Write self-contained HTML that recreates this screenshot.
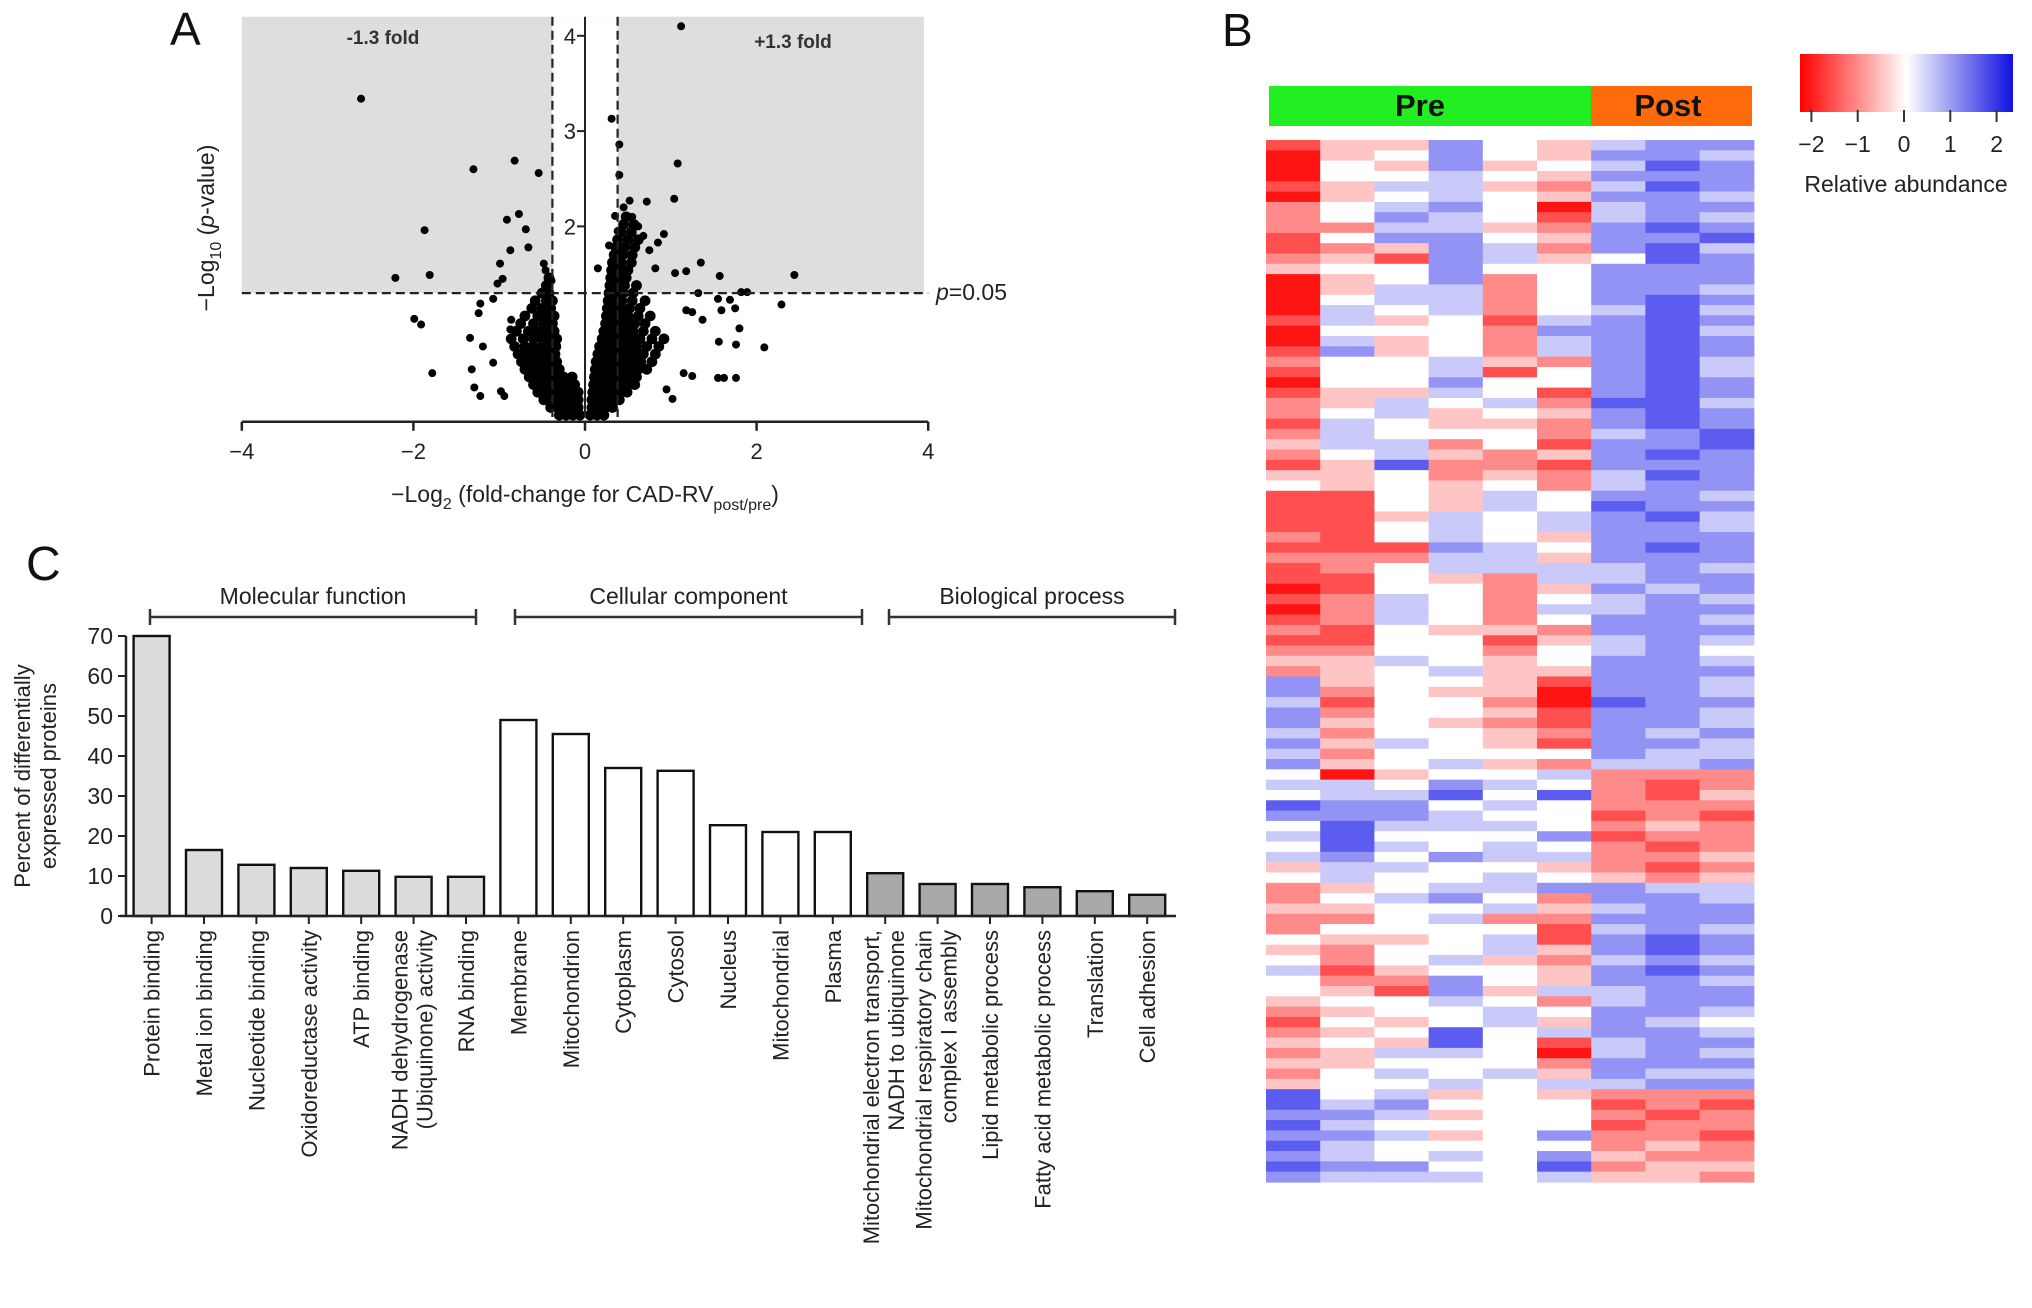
<!DOCTYPE html>
<html><head><meta charset="utf-8"><style>
html,body{margin:0;padding:0;background:#fff}
svg{display:block;font-family:"Liberation Sans",Arial,sans-serif}
</style></head><body>
<svg id="fig" width="2032" height="1308" viewBox="0 0 2032 1308" xmlns="http://www.w3.org/2000/svg">
<g id="pa"></g>
<g id="pb"></g>
<g id="pc"></g>
</svg>
<script>
const NS="http://www.w3.org/2000/svg";
function mk(parent,tag,attrs,text){const e=document.createElementNS(NS,tag);for(const k in attrs)e.setAttribute(k,attrs[k]);if(text!==undefined)e.textContent=text;parent.appendChild(e);return e;}

/* ---------- Panel A data ---------- */
const volXTicks=[-4,-2,0,2,4];
const volYTicks=[2,3,4];
const outlierX=[1.12,-2.61,0.31,0.40,0.40,-0.82,-1.30,-0.54,1.08,1.04,0.72,-1.87,-0.91,-0.77,-0.69,-0.87,-0.66,-0.99,-0.48,-2.21,-1.81,1.35,1.18,1.05,1.57,2.44,0.92,0.85,0.82,1.82,1.89,1.32,2.29,1.55,1.69,1.75,1.59,1.18,1.25,1.37,1.80,1.56,1.76,2.09,1.55,1.62,1.76,1.25,1.15,-1.99,-1.91,-1.78,-1.34,-1.19,-1.24,-1.22,-1.07,-1.02,-0.96,-1.32,-1.29,-1.22,-1.07,-0.98,-0.94,-0.86,-0.87,-0.39,-0.46,0.15,0.28,0.38,0.35,0.52,0.45,0.55,0.62,0.68,0.75,1.02,0.95];
const outlierY=[4.1,3.34,3.13,2.86,2.54,2.69,2.6,2.56,2.66,2.29,2.26,1.96,2.07,2.13,1.97,1.75,1.78,1.61,1.61,1.46,1.49,1.62,1.53,1.51,1.48,1.49,1.92,1.83,1.56,1.31,1.31,1.30,1.18,1.24,1.23,1.14,1.12,1.12,1.10,1.02,0.93,0.79,0.76,0.73,0.41,0.41,0.41,0.43,0.46,1.03,0.97,0.46,0.83,0.74,1.09,1.19,1.24,1.40,1.45,0.50,0.31,0.22,0.57,0.27,0.22,1.02,0.92,1.43,1.54,1.56,1.80,1.95,2.11,2.27,2.2,2.1,2.0,1.9,1.75,0.19,0.29];
const coreRowsY=[0.02,0.1,0.18,0.26,0.34,0.42,0.5,0.58,0.66,0.74,0.82,0.9,0.98,1.06,1.14,1.22,1.3,1.38,1.46,1.54,1.62,1.7,1.78,1.86,1.94,2.02,2.1];
const coreRowsX=[
[-0.3,-0.22,-0.14,-0.06,0.06,0.14,0.22],
[-0.4,-0.32,-0.24,-0.16,-0.08,0.08,0.16,0.24,0.32],
[-0.48,-0.4,-0.32,-0.24,-0.16,-0.08,0.08,0.16,0.24,0.32,0.4],
[-0.55,-0.47,-0.39,-0.31,-0.23,-0.15,-0.08,0.09,0.17,0.25,0.33,0.41,0.49],
[-0.6,-0.52,-0.44,-0.36,-0.28,-0.2,-0.12,0.1,0.18,0.26,0.34,0.42,0.5,0.58],
[-0.65,-0.57,-0.49,-0.41,-0.33,-0.25,-0.15,0.11,0.19,0.27,0.35,0.43,0.51,0.6],
[-0.7,-0.62,-0.54,-0.46,-0.38,-0.3,0.12,0.2,0.28,0.36,0.44,0.52,0.62,0.72],
[-0.74,-0.66,-0.58,-0.5,-0.42,-0.33,0.13,0.21,0.29,0.37,0.45,0.55,0.65,0.78],
[-0.78,-0.68,-0.6,-0.52,-0.44,-0.35,0.15,0.23,0.31,0.39,0.47,0.57,0.68,0.82],
[-0.82,-0.7,-0.6,-0.5,-0.42,-0.34,0.17,0.25,0.33,0.41,0.5,0.6,0.72,0.86],
[-0.86,-0.72,-0.6,-0.5,-0.4,-0.33,0.2,0.28,0.36,0.44,0.53,0.64,0.78,0.92],
[-0.8,-0.66,-0.55,-0.45,-0.36,0.22,0.3,0.38,0.46,0.56,0.68,0.82],
[-0.75,-0.6,-0.48,-0.38,0.24,0.32,0.4,0.48,0.58,0.7],
[-0.7,-0.55,-0.44,-0.36,0.25,0.33,0.41,0.5,0.62,0.76],
[-0.62,-0.5,-0.4,0.26,0.34,0.42,0.52,0.64],
[-0.58,-0.45,-0.38,0.27,0.35,0.43,0.55,0.7],
[-0.5,-0.42,0.28,0.36,0.45,0.56],
[-0.45,0.29,0.37,0.46,0.6],
[-0.42,0.3,0.38,0.48],
[0.31,0.4,0.5],[0.32,0.42,0.54],[0.34,0.44,0.55],[0.36,0.46,0.58],[0.38,0.5,0.62],[0.42,0.54],[0.45,0.57],[0.48]];

/* ---------- Panel B data ---------- */
const heatGroups=["Pre","Post"];
const heatRows=[
"133643566","034643665","043634576","044543666","135532576","034543665","245640566","246541565","225532676","146643667","123652675","231653476","344644666",
"034624666","035524665","045524676","054524575","153415676","044426675","053425676","163425676","244532675","144514675","044644676","133541676","235452775","245343676","154332676","254442567","355241667","245323676",
"137221666","334232576","434342566","114354665","114354766","113545675","114545665","214543666","111654676","222553666","124555565","114325566","014423656","125424565","025425566","125424665","214332666","114413565","224424564","335434665","234533666",
"634431665","624330665","514420766","624431665","634321665","524432656","635431665","524444655","634532556",
"403445222","554654212","455747213","766454222","666544121","475554232","574446122","475454212","564655223","355443212","454454323",
"234556655","245642665","334453566","224522666","244441565","433451676","324453676","424532565","513443676","422643665","431635566","344542566","234454665","143453654","234745665","343741566","235540565","334442666","245453655","344545566",
"745343222","756444121","665344212","754444122","665346221","754444232","654546322","766447233","655545332"];

/* ---------- Panel C data ---------- */
const goCategories=["Protein binding","Metal ion binding","Nucleotide binding","Oxidoreductase activity","ATP binding","NADH dehydrogenase|(Ubiquinone) activity","RNA binding","Membrane","Mitochondrion","Cytoplasm","Cytosol","Nucleus","Mitochondrial","Plasma","Mitochondrial electron transport,|NADH to ubiquinone","Mitochondrial respiratory chain|complex I assembly","Lipid metabolic process","Fatty acid metabolic process","Translation","Cell adhesion"];
const goValues=[70,16.5,12.8,12,11.3,9.8,9.8,49,45.5,37,36.3,22.7,21,21,10.7,8,8,7.2,6.2,5.3];
const goGroupOf=[0,0,0,0,0,0,0,1,1,1,1,1,1,1,2,2,2,2,2,2];
const goGroupNames=["Molecular function","Cellular component","Biological process"];
const goYTicks=[0,10,20,30,40,50,60,70];

/* ===== Panel A drawing ===== */
const pa=document.getElementById('pa');
const ax=v=>585+v*85.8, ay=v=>417-v*95.3;
let e;
e=mk(pa,'rect',{x:ax(-4),y:ay(4.2),width:ax(3.95)-ax(-4),height:ay(1.3)-ay(4.2),fill:'#dedede'});

e=mk(pa,'rect',{x:ax(-0.38),y:ay(4.2),width:ax(0.38)-ax(-0.38),height:ay(1.3)-ay(4.2),fill:'#fff'});

const dots=mk(pa,'g',{fill:'#000'});

coreRowsY.forEach((y,i)=>coreRowsX[i].forEach(x=>{const c=mk(dots,'circle',{cx:ax(x),cy:ay(y),r:5.4});

}));
outlierX.forEach((x,i)=>{const c=mk(dots,'circle',{cx:ax(x),cy:ay(outlierY[i]),r:4});

});
e=mk(pa,'line',{x1:ax(-4),x2:ax(4),y1:ay(1.3),y2:ay(1.3),stroke:'#222','stroke-width':2.2,'stroke-dasharray':'9,5'});

[-0.38,0.38].forEach(v=>{const l=mk(pa,'line',{x1:ax(v),x2:ax(v),y1:ay(4.2),y2:ay(0),stroke:'#222','stroke-width':2.2,'stroke-dasharray':'9,5'});

});
e=mk(pa,'line',{x1:ax(0),x2:ax(0),y1:ay(4.2),y2:ay(0),stroke:'#222','stroke-width':2});

e=mk(pa,'line',{x1:ax(-4),x2:ax(4),y1:ay(-0.05),y2:ay(-0.05),stroke:'#222','stroke-width':2.5});

volXTicks.forEach(v=>{mk(pa,'line',{x1:ax(v),x2:ax(v),y1:ay(-0.05),y2:ay(-0.05)+9,stroke:'#222','stroke-width':2.5});
const t=mk(pa,'text',{x:ax(v),y:459,'font-size':22,'text-anchor':'middle',fill:'#222'},v<0?'\u2212'+(-v):String(v));
});
volYTicks.forEach(v=>{mk(pa,'line',{x1:ax(0)-8,x2:ax(0),y1:ay(v),y2:ay(v),stroke:'#222','stroke-width':2});
const t=mk(pa,'text',{x:ax(0)-9,y:ay(v)+8,'font-size':22,'text-anchor':'end',fill:'#222'},String(v));
});
e=mk(pa,'text',{x:170,y:45,'font-size':46,fill:'#111'},'A');
e=mk(pa,'text',{x:383,y:44,'font-size':19,'font-weight':'bold','text-anchor':'middle',fill:'#333'},'-1.3 fold');
e=mk(pa,'text',{x:793,y:48,'font-size':19,'font-weight':'bold','text-anchor':'middle',fill:'#333'},'+1.3 fold');
e=mk(pa,'text',{x:936,y:300,'font-size':23,fill:'#222'});e.innerHTML='<tspan font-style="italic">p</tspan>=0.05';
e=mk(pa,'text',{x:585,y:502,'font-size':23,'text-anchor':'middle',fill:'#222'});
e.innerHTML='\u2212Log<tspan font-size="16" dy="7">2</tspan><tspan dy="-7"> (fold-change for CAD-RV</tspan><tspan font-size="16" dy="8">post/pre</tspan><tspan dy="-8">)</tspan>';

e=mk(pa,'text',{transform:'translate(214,228) rotate(-90)','font-size':23,'text-anchor':'middle',fill:'#222'});
e.innerHTML='\u2212Log<tspan font-size="16" dy="7">10</tspan><tspan dy="-7"> (</tspan><tspan font-style="italic">p</tspan>-value)';


/* ===== Panel B drawing ===== */
const pb=document.getElementById('pb');
const hx0=1266,hcw=54.2,hy0=140,hy1=1182;
const rh=(hy1-hy0)/heatRows.length;
function col(v){const t=(v-4)/4;let r,g,b;
 if(t<0){const a=-t;r=255;g=Math.round(255*(1-a*0.92));b=Math.round(255*(1-a*0.92));}
 else{const a=t;r=Math.round(255*(1-a*0.85));g=Math.round(255*(1-a*0.85));b=255-Math.round(a*20);}
 return `rgb(${r},${g},${b})`;}
const hg=mk(pb,'g',{});
heatRows.forEach((row,i)=>{for(let j=0;j<9;j++){const c=mk(hg,'rect',{x:hx0+j*hcw,y:hy0+i*rh,width:hcw+0.6,height:rh+0.6,fill:col(+row[j])});

}});
e=mk(pb,'rect',{x:1269,y:86,width:322,height:40,fill:'#22ee22'});
e=mk(pb,'rect',{x:1591,y:86,width:161,height:40,fill:'#ff6a0a'});
e=mk(pb,'text',{x:1420,y:116,'font-size':31,'font-weight':'bold','text-anchor':'middle',fill:'#111'},heatGroups[0]);
e=mk(pb,'text',{x:1668,y:116,'font-size':31,'font-weight':'bold','text-anchor':'middle',fill:'#111'},heatGroups[1]);
const defs=mk(pb,'defs',{});const lg=mk(defs,'linearGradient',{id:'cb',x1:0,x2:1,y1:0,y2:0});
mk(lg,'stop',{offset:'0',  'stop-color':'#ff0000'});mk(lg,'stop',{offset:'0.5','stop-color':'#ffffff'});mk(lg,'stop',{offset:'1','stop-color':'#1010e0'});
e=mk(pb,'rect',{x:1800,y:54,width:213,height:58,fill:'url(#cb)'});
[-2,-1,0,1,2].forEach(v=>{const x=1904+v*46.3;mk(pb,'line',{x1:x,x2:x,y1:110,y2:122,stroke:'#333','stroke-width':2});
const t=mk(pb,'text',{x:x,y:152,'font-size':23,'text-anchor':'middle',fill:'#222'},v<0?'\u2212'+(-v):String(v));
});
e=mk(pb,'text',{x:1906,y:192,'font-size':23,'text-anchor':'middle',fill:'#222'},'Relative abundance');
e=mk(pb,'text',{x:1222,y:46,'font-size':46,fill:'#111'},'B');

/* ===== Panel C drawing ===== */
const pc=document.getElementById('pc');
const cy=v=>916-v*4.0, cx=i=>151.6+i*52.4;
const fills=['#dcdcdc','#ffffff','#a9a9a9'];
goValues.forEach((v,i)=>{const b=mk(pc,'rect',{x:cx(i)-18,y:cy(v),width:36,height:cy(0)-cy(v),fill:fills[goGroupOf[i]],stroke:'#111','stroke-width':2.4});

});
e=mk(pc,'line',{x1:126,x2:126,y1:cy(70),y2:cy(0),stroke:'#222','stroke-width':2.5});
e=mk(pc,'line',{x1:120,x2:1176,y1:cy(0),y2:cy(0),stroke:'#222','stroke-width':2.5});
goYTicks.forEach(v=>{mk(pc,'line',{x1:118,x2:126,y1:cy(v),y2:cy(v),stroke:'#222','stroke-width':2});
const t=mk(pc,'text',{x:113,y:cy(v)+8,'font-size':23,'text-anchor':'end',fill:'#222'},String(v));
});
goCategories.forEach((c,i)=>{const x=cx(i);mk(pc,'line',{x1:x,x2:x,y1:cy(0),y2:cy(0)+8,stroke:'#222','stroke-width':2});
const lines=c.split('|');lines.forEach((ln,k)=>{const off=lines.length===1?8:(k===0?-6:19);
const t=mk(pc,'text',{transform:`translate(${x+off},930) rotate(-90)`,'font-size':22,'text-anchor':'end',fill:'#222'},ln);
});});
[[150,476],[515,862],[889,1175]].forEach((r,g)=>{const y=617;
mk(pc,'path',{d:`M${r[0]},${y-8}V${y+8}M${r[0]},${y}H${r[1]}M${r[1]},${y-8}V${y+8}`,stroke:'#333','stroke-width':2.5,fill:'none'});
const t=mk(pc,'text',{x:(r[0]+r[1])/2,y:604,'font-size':23,'text-anchor':'middle',fill:'#222'},goGroupNames[g]);
});
e=mk(pc,'text',{transform:'translate(30,776) rotate(-90)','font-size':22,'text-anchor':'middle',fill:'#222'},'Percent of differentially');
e=mk(pc,'text',{transform:'translate(56,776) rotate(-90)','font-size':22,'text-anchor':'middle',fill:'#222'},'expressed proteins');
e=mk(pc,'text',{x:26,y:580,'font-size':48,fill:'#111'},'C');
</script>
</body></html>
